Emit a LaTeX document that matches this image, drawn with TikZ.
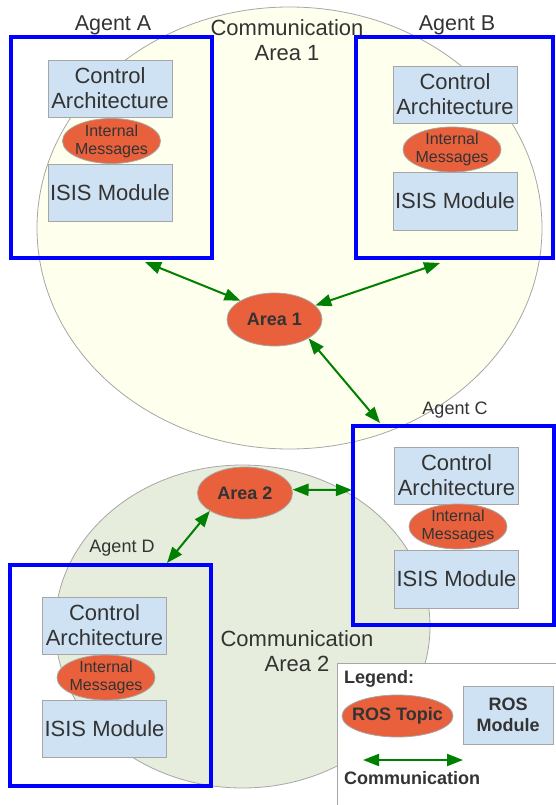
\documentclass[tikz,border=0pt]{standalone}
\usepackage{fontspec}
\setmainfont{Liberation Sans}
\usetikzlibrary{shapes.geometric,arrows.meta}
\definecolor{agentblue}{HTML}{0000FF}
\definecolor{topicred}{HTML}{E8603C}
\definecolor{modblue}{HTML}{CFE2F3}
\definecolor{zoneyellow}{HTML}{FFFFEE}
\definecolor{zonegreen}{HTML}{E6EDDC}
\definecolor{commgreen}{HTML}{008000}
\definecolor{txt}{HTML}{333333}

\begin{document}
\begin{tikzpicture}
[x=1pt,y=-1pt]
\tikzset{zone/.style={ellipse, draw=gray!70, line width=.8pt, inner sep=0pt}}
\tikzset{agent/.style={draw=agentblue, line width=4pt, inner sep=0pt}}
\tikzset{module/.style={draw=gray!70, fill=modblue, line width=.8pt, minimum width=124pt, minimum height=57pt, inner sep=1pt, align=center, text=txt, font=\fontsize{22}{25}\selectfont}}
\tikzset{msg/.style={ellipse, draw=gray!70, fill=topicred, line width=.8pt, minimum width=98pt, minimum height=45pt, inner xsep=-2pt, inner ysep=-1pt, align=center, text=txt, font=\fontsize{16}{18}\selectfont}}
\tikzset{topic/.style={ellipse, draw=gray!70, fill=topicred, line width=.8pt, minimum width=95pt, minimum height=53pt, inner sep=0pt, text=txt, font=\bfseries\fontsize{18}{21}\selectfont}}
\tikzset{lbl/.style={text=txt, align=center, inner sep=0pt, font=\fontsize{21.5}{25}\selectfont}}
\tikzset{link/.style={commgreen, line width=2pt, {Triangle[length=16pt,width=12pt]}-{Triangle[length=16pt,width=12pt]}}}
\useasboundingbox (0,0) rectangle (555,805);

% communication areas
\node [zone, fill=zoneyellow, minimum width=505pt, minimum height=442pt] (zone1) at (289.5,228) {};
\node [zone, fill=zonegreen, minimum width=375pt, minimum height=323pt] (zone2) at (242.5,626.5) {};
\node [draw=gray!70, fill=white, line width=.8pt, anchor=north west, minimum width=230pt, minimum height=150pt] (legend) at (337,663) {};

% agents
\node [agent, minimum width=201pt, minimum height=221pt] (agentA) at (111.5,147.5) {};
\node [agent, minimum width=197pt, minimum height=221pt] (agentB) at (454.5,147.5) {};
\node [agent, minimum width=201pt, minimum height=199pt] (agentC) at (453.5,525.5) {};
\node [agent, minimum width=201pt, minimum height=221pt] (agentD) at (110.5,675.5) {};

\node [module] (ctrlA) at (110,88.5) {Control\\Architecture};
\node [module] (isisA) at (110,192.5) {ISIS Module};
\node [msg] (msgA) at (111.5,141) {Internal\\Messages};
\node [module] (ctrlB) at (455,94.5) {Control\\Architecture};
\node [module, minimum height=58pt] (isisB) at (455,201) {ISIS Module};
\node [msg] (msgB) at (452,149.5) {Internal\\Messages};
\node [module] (ctrlC) at (456.5,475.5) {Control\\Architecture};
\node [module, minimum height=58pt] (isisC) at (456.5,579) {ISIS Module};
\node [msg] (msgC) at (458,526.5) {Internal\\Messages};
\node [module] (ctrlD) at (104.5,625.5) {Control\\Architecture};
\node [module] (isisD) at (104.5,728.5) {ISIS Module};
\node [msg] (msgD) at (106,677.5) {Internal\\Messages};

\node [topic] (area1) at (274.5,319.5) {Area 1};
\node [topic, minimum height=52pt] (area2) at (245,493) {Area 2};

\node [lbl] (labA) at (113,25) {Agent A};
\node [lbl] (labB) at (457,25) {Agent B};
\node [lbl, font=\fontsize{18}{21}\selectfont] (labC) at (455,410.5) {Agent C};
\node [lbl, font=\fontsize{18}{21}\selectfont] (labD) at (122,548.5) {Agent D};
\node [lbl, font=\fontsize{22}{25}\selectfont] (comm1) at (287,40.6) {Communication\\Area 1};
\node [lbl, font=\fontsize{22}{25}\selectfont] (comm2) at (297,651.6) {Communication\\Area 2};

\coordinate (ea) at (145,262);
\coordinate (eb) at (440,263);
\coordinate (ec) at (380,423);
\coordinate (ecc) at (352,490);
\coordinate (ed) at (167,563);
\foreach \from/\to in {ea/area1.151,eb/area1.19,area1.-29/ec,area2.4/ecc,area2.-153/ed}
	\draw [link] (\from) -- (\to);

% legend
\node [lbl, anchor=west, font=\bfseries\fontsize{18}{21}\selectfont] (legtitle) at (344,678.4) {Legend:};
\node [topic, minimum width=111pt, minimum height=42pt, inner xsep=-7pt] (legtopic) at (397.5,716) {ROS Topic};
\node [module, minimum width=90pt, minimum height=58pt, font=\bfseries\fontsize{18}{21}\selectfont] (legmod) at (508,715) {ROS\\Module};
\coordinate (la) at (363,760);
\coordinate (lb) at (463,760);
\draw [link] (la) -- (lb);
\node [lbl, anchor=west, font=\bfseries\fontsize{18}{21}\selectfont] (legcomm) at (344,778.5) {Communication};
\end{tikzpicture}
\end{document}
